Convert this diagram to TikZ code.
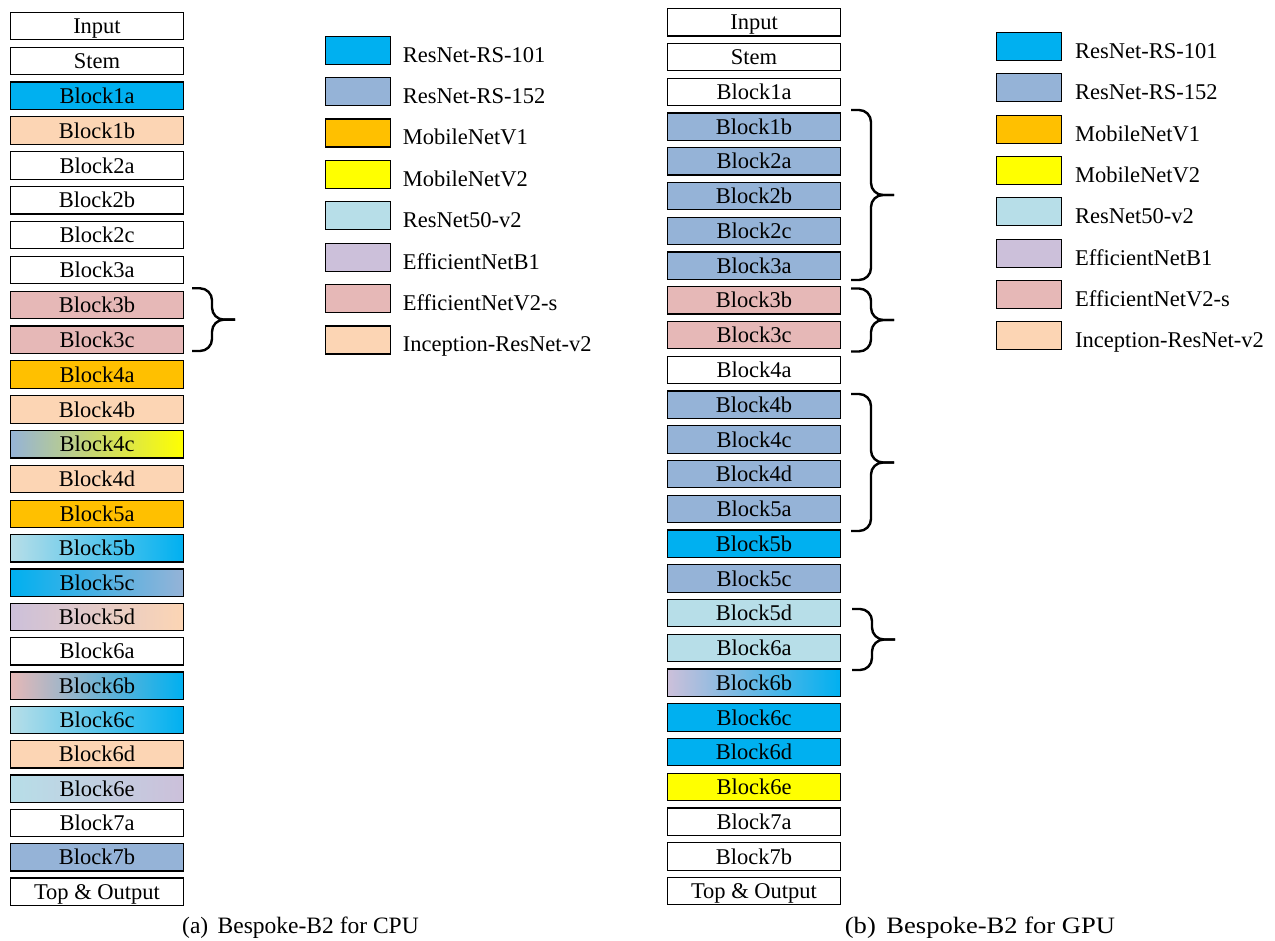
\documentclass[tikz,border=0pt]{standalone}
\usepackage{fontspec}
\setmainfont{Liberation Serif}
\usetikzlibrary{calc}
\definecolor{cRSa}{HTML}{00B0F0}
\definecolor{cRSb}{HTML}{95B3D7}
\definecolor{cMBa}{HTML}{FFC000}
\definecolor{cMBb}{HTML}{FFFF00}
\definecolor{cRN}{HTML}{B7DEE8}
\definecolor{cEa}{HTML}{CCC0DA}
\definecolor{cEb}{HTML}{E6B8B7}
\definecolor{cInc}{HTML}{FCD5B4}
\tikzset{
  txtfont/.style={font=\fontsize{22.5}{26}\selectfont},
  blk/.style={draw=black, line width=1.2pt, minimum width=173pt, minimum height=27.4pt,
    inner sep=0pt, text height=17pt, text depth=1.8pt, txtfont},
  fW/.style={fill=white},
  fRSa/.style={fill=cRSa},
  fRSb/.style={fill=cRSb},
  fMBa/.style={fill=cMBa},
  fMBb/.style={fill=cMBb},
  fRN/.style={fill=cRN},
  fEa/.style={fill=cEa},
  fEb/.style={fill=cEb},
  fInc/.style={fill=cInc},
  gA/.style={left color=cRSb, right color=cMBb},
  gB/.style={left color=cRN, right color=cRSa},
  gC/.style={left color=cRSa, right color=cRSb},
  gD/.style={left color=cEa, right color=cInc},
  gE/.style={left color=cEb, right color=cRSa},
  gF/.style={left color=cRN, right color=cEa},
  gG/.style={left color=cEa, right color=cRSa},
  swatch/.style={draw=black, line width=1.2pt, minimum width=65pt, minimum height=28pt, inner sep=0pt},
  lab/.style={anchor=west, inner sep=0pt, text height=17pt, text depth=1.8pt, txtfont},
  brc/.style={draw=black, line width=2.4pt, rounded corners=12pt},
  captxt/.style={anchor=base, inner sep=0pt, font=\fontsize{23.5}{27}\selectfont},
}
\newcommand\mybrace[5]{% x0 xv xt ytop ybot
  \draw[brc] (#1,#4) -- (#2,#4) -- (#2,{(#4+#5)/2}) -- (#3,{(#4+#5)/2});
  \draw[brc] (#1,#5) -- (#2,#5) -- (#2,{(#4+#5)/2}) -- (#3,{(#4+#5)/2});
}
\begin{document}
\begin{tikzpicture}[x=1pt,y=-1pt]
\useasboundingbox (0,0) rectangle (1275,941);
% left column (CPU)
\foreach \nm/\tx/\st [count=\i from 0] in {
  lIn/Input/fW, lSt/Stem/fW, lOa/Block1a/fRSa, lOb/Block1b/fInc,
  lTa/Block2a/fW, lTb/Block2b/fW, lTc/Block2c/fW, lHa/Block3a/fW,
  lHb/Block3b/fEb, lHc/Block3c/fEb, lFa/Block4a/fMBa, lFb/Block4b/fInc,
  lFc/Block4c/gA, lFd/Block4d/fInc, lVa/Block5a/fMBa, lVb/Block5b/gB,
  lVc/Block5c/gC, lVd/Block5d/gD, lSa/Block6a/fW, lSb/Block6b/gE,
  lSc/Block6c/gB, lSd/Block6d/fInc, lSe/Block6e/gF, lNa/Block7a/fW,
  lNb/Block7b/fRSb, lOut/Top \& Output/fW}{
  \pgfmathsetmacro\yy{\i<=14 ? 26+34.86*\i : 514+34.33*(\i-14)}
  \begingroup\edef\x{\endgroup\noexpand\node[blk,\st]}\x (\nm) at (97,\yy) {\tx};
}
% right column (GPU)
\foreach \nm/\tx/\st [count=\i from 0] in {
  rIn/Input/fW, rSt/Stem/fW, rOa/Block1a/fW, rOb/Block1b/fRSb,
  rTa/Block2a/fRSb, rTb/Block2b/fRSb, rTc/Block2c/fRSb, rHa/Block3a/fRSb,
  rHb/Block3b/fEb, rHc/Block3c/fEb, rFa/Block4a/fW, rFb/Block4b/fRSb,
  rFc/Block4c/fRSb, rFd/Block4d/fRSb, rVa/Block5a/fRSb, rVb/Block5b/fRSa,
  rVc/Block5c/fRSb, rVd/Block5d/fRN, rSa/Block6a/fRN, rSb/Block6b/gG,
  rSc/Block6c/fRSa, rSd/Block6d/fRSa, rSe/Block6e/fMBb, rNa/Block7a/fW,
  rNb/Block7b/fW, rOut/Top \& Output/fW}{
  \pgfmathsetmacro\yy{22.4+34.75*\i}
  \begingroup\edef\x{\endgroup\noexpand\node[blk,\st]}\x (\nm) at (754,\yy) {\tx};
}
% legends
\foreach \nm/\tx/\st [count=\i from 0] in {
  RSa/ResNet-RS-101/fRSa, RSb/ResNet-RS-152/fRSb, MBa/MobileNetV1/fMBa,
  MBb/MobileNetV2/fMBb, RN/ResNet50-v2/fRN, Ea/EfficientNetB1/fEa,
  Eb/EfficientNetV2-s/fEb, Inc/Inception-ResNet-v2/fInc}{
  \pgfmathsetmacro\ya{50.2+41.4*\i}
  \pgfmathsetmacro\yb{46.5+41.34*\i}
  \begingroup\edef\x{\endgroup\noexpand\node[swatch,\st]}\x (ls\nm) at (358,\ya) {};
  \node[lab] (ll\nm) at (402.7,\ya+4.3) {\tx};
  \begingroup\edef\x{\endgroup\noexpand\node[swatch,\st]}\x (rs\nm) at (1029.2,\yb) {};
  \node[lab] (rl\nm) at (1075,\yb+4.3) {\tx};
}
% braces
\mybrace{192}{212}{235}{288.3}{351}
\mybrace{851}{871}{894}{110}{280}
\mybrace{851}{871}{894}{288.5}{351.5}
\mybrace{851}{871}{894}{394}{531}
\mybrace{852}{872}{895}{609}{670}
% captions
\node[captxt] (capA) at (300.5,933) {(a)\hspace{0.4em}Bespoke-B2 for CPU};
\node[captxt] (capB) at (980,933) {\scalebox{1.13}[1]{(b)\hspace{0.4em}Bespoke-B2 for GPU}};
\end{tikzpicture}
\end{document}
